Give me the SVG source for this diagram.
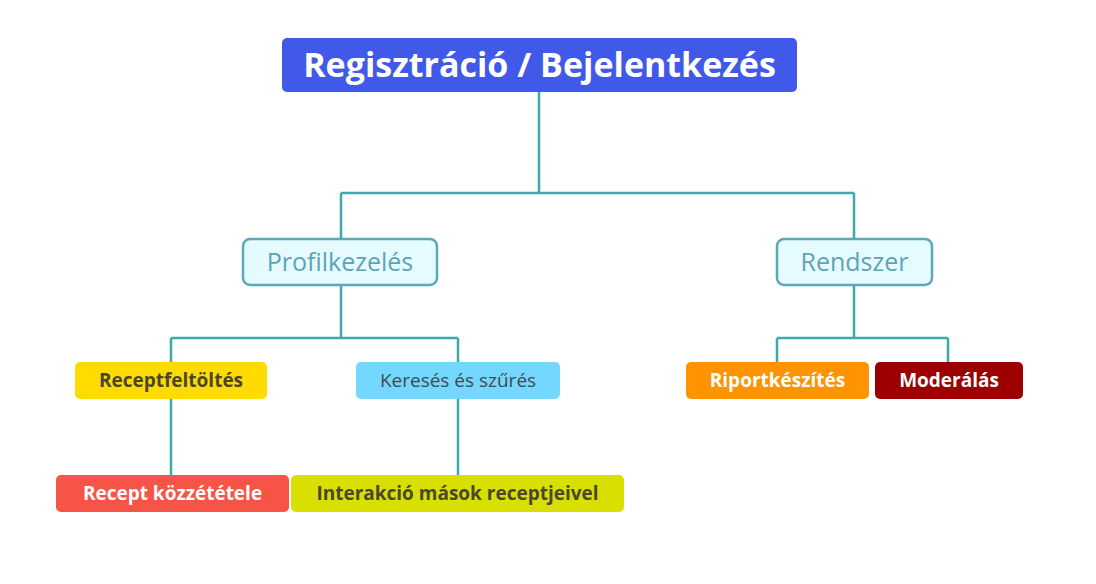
<svg xmlns="http://www.w3.org/2000/svg" width="1096" height="584" viewBox="0 0 1096 584">
<style>
text{font-family:"Open Sans","Noto Sans","DejaVu Sans",sans-serif;text-anchor:middle;dominant-baseline:central}
.c{fill:none;stroke:#3AAAAA;stroke-width:2.5}
.l1 rect{fill:#E6FBFF;stroke:#5AA9B6;stroke-width:2.5}
.l1 text{fill:#5AA5B6;font-size:25px}
.b{font-weight:bold;font-size:19px}
</style>
<rect width="1096" height="584" fill="#fff"/>
<g id="connectors">
<path class="c" d="M539 92V193M341 193H854M341 193V239M854 193V239"/>
<path class="c" d="M341 285V338M171 338H458M171 338V362M458 338V362"/>
<path class="c" d="M854 285V338M777 338H948M777 338V362M948 338V362"/>
<path class="c" d="M171 399V475M458 399V475"/>
</g>
<g id="root"><rect x="282" y="38" width="515" height="54" rx="5" fill="#4159E8"/><text x="539.5" y="64" fill="#fff" font-size="34" font-weight="bold">Regisztráció / Bejelentkezés</text></g>
<g id="profil" class="l1"><rect x="243" y="239" width="194" height="46" rx="7"/><text x="340" y="261">Profilkezelés</text></g>
<g id="rendszer" class="l1"><rect x="777" y="239" width="155" height="46" rx="7"/><text x="854.5" y="261">Rendszer</text></g>
<g id="receptfel"><rect x="75" y="362" width="192" height="37" rx="5" fill="#FFDB00"/><text class="b" x="171" y="380" fill="#4A4630">Receptfeltöltés</text></g>
<g id="kereses"><rect x="356" y="362" width="204" height="37" rx="5" fill="#74D7FF"/><text x="458" y="380" fill="#3E4A50" font-size="19">Keresés és szűrés</text></g>
<g id="riport"><rect x="686" y="362" width="183" height="37" rx="5" fill="#FF9400"/><text class="b" x="777.5" y="380" fill="#fff">Riportkészítés</text></g>
<g id="moderalas"><rect x="875" y="362" width="148" height="37" rx="5" fill="#9C0000"/><text class="b" x="949" y="380" fill="#fff">Moderálás</text></g>
<g id="kozzetetel"><rect x="56" y="475" width="233" height="37" rx="5" fill="#F55447"/><text class="b" x="172.5" y="493" fill="#fff">Recept közzététele</text></g>
<g id="interakcio"><rect x="291" y="475" width="333" height="37" rx="5" fill="#D9E000"/><text class="b" x="457.5" y="493" fill="#4A4630">Interakció mások receptjeivel</text></g>
</svg>
